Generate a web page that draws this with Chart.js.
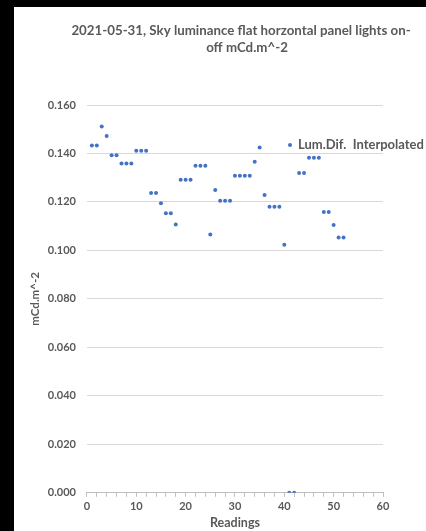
<!DOCTYPE html>
<html>
<head>
<meta charset="utf-8">
<script src="https://cdn.jsdelivr.net/npm/chart.js@4/dist/chart.umd.min.js"></script>
<style>
  html, body { margin: 0; padding: 0; background: #000; width: 426px; height: 531px; overflow: hidden; }
  #wrap { position: absolute; left: 14px; top: 7px; width: 412px; height: 524px; background: #fff; }
</style>
</head>
<body>
<div id="wrap"><canvas id="chart"></canvas></div>
<script>
// Data
const readings = [1, 2, 3, 4, 5, 6, 7, 8, 9, 10, 11, 12, 13, 14, 15, 16, 17, 18, 19, 20,
    21, 22, 23, 24, 25, 26, 27, 28, 29, 30, 31, 32, 33, 34, 35, 36, 37, 38, 39, 40,
    41, 42, 43, 44, 45, 46, 47, 48, 49, 50, 51, 52];
const lumDif = [0.1433, 0.1433, 0.1511, 0.1472, 0.1393, 0.1393, 0.1359, 0.1359, 0.1359, 0.1411,
    0.1411, 0.1411, 0.1237, 0.1237, 0.1195, 0.1153, 0.1153, 0.1107, 0.1292, 0.1292,
    0.1292, 0.1349, 0.1349, 0.1349, 0.1066, 0.1249, 0.1205, 0.1205, 0.1205, 0.1308,
    0.1308, 0.1308, 0.1308, 0.1366, 0.1425, 0.1229, 0.1180, 0.1180, 0.1180, 0.1023,
    0, 0, 0.1319, 0.1319, 0.1382, 0.1382, 0.1382, 0.1159, 0.1159, 0.1105,
    0.1053, 0.1053];
const seriesName = 'Lum.Dif.  Interpolated';
const titleLines = ['2021-05-31, Sky luminance flat horzontal panel lights on-', 'off mCd.m^-2'];

const gray = '#595959';
const blue = '#4472c4';

// title is drawn by hand, Excel wraps it a bit right of centre
const titlePlugin = {
    id: 'wrapTitle',
    afterDraw(chart) {
        const ctx = chart.ctx;
        ctx.save();
        ctx.fillStyle = gray;
        ctx.font = 'bold 13.3px Lato';
        ctx.textAlign = 'center';
        ctx.textBaseline = 'middle';
        ctx.fillText(titleLines[0], 227, 24);
        ctx.fillText(titleLines[1], 233, 41);
        ctx.restore();
    }
};

// legend sits inside the plot, to the right
const legendPlugin = {
    id: 'sideLegend',
    afterDraw(chart) {
        const ctx = chart.ctx;
        const area = chart.chartArea;
        const x = area.right - 93;
        const y = area.top + 40;
        ctx.save();
        ctx.fillStyle = blue;
        ctx.beginPath();
        ctx.arc(x, y, 2, 0, Math.PI * 2);
        ctx.fill();
        ctx.fillStyle = gray;
        ctx.font = 'bold 13px Lato';
        ctx.textBaseline = 'middle';
        ctx.fillText(seriesName, x + 8, y);
        ctx.restore();
    }
};

const points = readings.map((r, i) => ({ x: r, y: lumDif[i] }));

new Chart(document.getElementById('chart'), {
    type: 'scatter',
    data: {
        datasets: [{
            label: seriesName,
            data: points,
            backgroundColor: blue,
            borderColor: blue,
            pointRadius: 2,
            pointBorderWidth: 0
        }]
    },
    options: {
        responsive: true,
        maintainAspectRatio: false,
        animation: false,
        layout: { padding: { left: 14, right: 43, top: 98, bottom: 1 } },
        plugins: {
            legend: { display: false },
            tooltip: { enabled: false },
            title: { display: false }
        },
        scales: {
            x: {
                type: 'linear',
                min: 0,
                max: 60,
                ticks: {
                    stepSize: 2,
                    autoSkip: false,
                    maxRotation: 0,
                    color: gray,
                    font: { family: 'Lato', size: 11, weight: 'bold' },
                    padding: 3,
                    callback: v => (v % 10 === 0 ? v : '')
                },
                grid: { drawOnChartArea: false, color: '#bfbfbf', tickLength: 4 },
                border: { color: '#bfbfbf' },
                title: {
                    display: true,
                    text: 'Readings',
                    color: gray,
                    font: { family: 'Lato', size: 12.5, weight: 'bold' },
                    padding: { top: -1, bottom: 0 }
                }
            },
            y: {
                min: 0,
                max: 0.16,
                ticks: {
                    stepSize: 0.02,
                    color: gray,
                    font: { family: 'Lato', size: 11, weight: 'bold' },
                    padding: 11,
                    callback: v => v.toFixed(3)
                },
                grid: { color: '#d9d9d9', drawTicks: false },
                border: { display: false },
                title: {
                    display: true,
                    text: 'mCd.m^-2',
                    color: gray,
                    font: { family: 'Lato', size: 11.5, weight: 'bold' },
                    padding: { top: 0, bottom: -5 }
                }
            }
        }
    },
    plugins: [titlePlugin, legendPlugin]
});
</script>
</body>
</html>
